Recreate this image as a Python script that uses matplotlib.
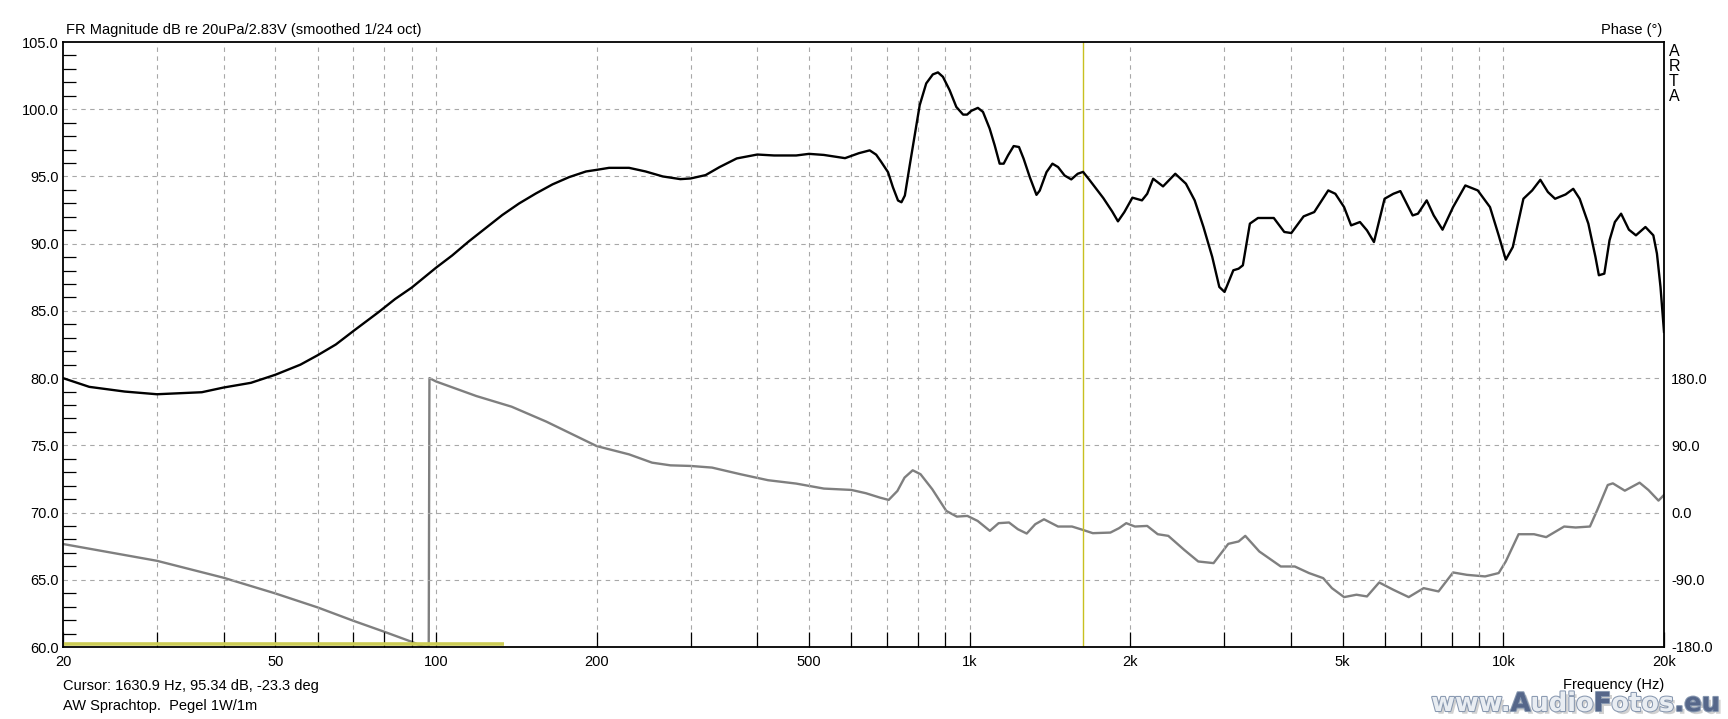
import numpy as np
import matplotlib
matplotlib.use("Agg")
import matplotlib.pyplot as plt
from matplotlib import patheffects as pe
from matplotlib.ticker import FixedLocator, NullFormatter

plt.rcParams['font.family'] = ['Liberation Sans', 'DejaVu Sans']

# ---------------- data ----------------
mag_freq = [20, 22.4, 26.1, 30, 36.4, 40, 45, 50, 55.7, 60, 64.9, 70, 78, 83.8, 90.1, 100, 107.2, 115.2,
            123.8, 133.1, 143.1, 153.8, 165.3, 177.6, 191, 200, 211, 230, 247, 266, 287, 300, 320, 340,
            366, 400, 430, 473, 500, 533, 584, 620, 649.6, 668, 683, 703, 718, 734, 745, 756, 772, 789,
            806, 829, 853, 872, 891, 917, 944, 972, 989, 1007, 1036, 1059, 1090, 1114, 1138, 1158,
            1180, 1209, 1237, 1262, 1296, 1334, 1353, 1393, 1429, 1464, 1506, 1550, 1594, 1631, 1676,
            1780, 1849, 1896,
            1949, 2018, 2103, 2151, 2207, 2303, 2428, 2542, 2640, 2742, 2848, 2936, 3003, 3119, 3191,
            3250, 3350, 3469, 3714, 3886, 4006, 4224, 4422, 4698, 4844, 5030, 5185, 5386, 5552, 5722,
            5990, 6221, 6412, 6761, 6918, 7184, 7405, 7692, 8050, 8487, 8954, 9440, 9800, 10105, 10416,
            10904, 11324, 11730, 12120, 12500, 13080, 13520, 13900, 14430, 14880, 15100, 15460, 15810,
            16180, 16620, 17190, 17720, 18460, 19100, 19400, 19700, 20000]
mag_db = [80.0, 79.35, 79.0, 78.8, 78.95, 79.3, 79.65, 80.25, 81.0, 81.7, 82.5, 83.5, 84.9, 85.88, 86.74,
          88.21, 89.12, 90.17, 91.15, 92.13, 92.99, 93.73, 94.41, 94.95, 95.37, 95.49, 95.64, 95.64,
          95.37, 95.0, 94.8, 94.85, 95.1, 95.7, 96.34, 96.63, 96.56, 96.56, 96.68, 96.6, 96.36, 96.73,
          96.94, 96.62, 96.07, 95.32, 94.2, 93.21, 93.08, 93.58, 95.82, 98.06, 100.3, 101.92, 102.59,
          102.74, 102.41, 101.42, 100.17, 99.6, 99.6, 99.88, 100.1, 99.8, 98.56, 97.31, 95.95, 95.95,
          96.57, 97.26, 97.19, 96.32, 94.95, 93.63, 93.95, 95.32, 95.95, 95.7, 95.07, 94.78, 95.2,
          95.34, 94.75, 93.39, 92.4, 91.66,
          92.35, 93.42, 93.22, 93.71, 94.83, 94.26, 95.2, 94.46, 93.22, 91.24, 89.01, 86.78, 86.41,
          88.02, 88.14,
          88.39, 91.49, 91.91, 91.91, 90.87, 90.79, 92.03, 92.35, 93.96, 93.71, 92.72, 91.36, 91.61,
          90.99, 90.12,
          93.34, 93.71, 93.91, 92.1, 92.23, 93.22, 92.1, 91.04, 92.72, 94.33, 93.96, 92.72, 90.62,
          88.81, 89.75,
          93.34, 93.96, 94.75, 93.84, 93.34, 93.66, 94.08, 93.34, 91.49, 89.01, 87.65, 87.77, 90.25,
          91.61, 92.23, 91.04, 90.62, 91.24, 90.62, 89.26, 86.78, 83.44]

phase_freq = [20, 30, 40, 50, 60, 70, 80, 90, 94.5, 96.9, 97.2, 100, 119, 138.6, 161, 200, 230, 254, 275,
              300, 329, 372, 419, 473, 533, 600, 639, 679, 705, 732, 755, 782, 809, 851, 904, 946, 990,
              1035, 1091, 1133, 1185, 1231, 1279, 1327, 1378, 1464, 1555, 1631, 1701, 1835, 1905, 1965,
              2040, 2151, 2251, 2356, 2523, 2681, 2864, 3052, 3191, 3284, 3489, 3828, 4066, 4323, 4596,
              4773, 5030, 5306, 5552, 5852, 6221, 6648, 7091, 7560, 8050, 8546, 9244, 9800, 10105,
              10680, 11414, 12030, 13000, 13660, 14530, 15000, 15690, 16040, 16890, 18000, 18700,
              19530, 20000]
phase_deg = [-42.1, -64.6, -87.3, -108.3, -127, -144.9, -159.6, -173, -179.5, -180, 180, 175.5, 156,
             141.7, 121.7, 89, 77.9, 66.8, 63.2, 62.4, 60.2, 51.3, 43.3, 38.8, 32.1, 30.3, 25.9, 20.0,
             16.9, 28.9, 46.8, 56.6, 51.3, 31.2, 2.2, -5.4, -4.5, -11.2, -24.5, -14.2, -13.3, -22.3,
             -28.1, -15.6, -9.0, -18.7, -18.7, -23.3, -27.6, -26.8, -20.9, -14.2, -18.7, -17.9, -29.0,
             -31.2, -49.9, -65.5, -67.7, -41.9, -38.7, -31.2, -52.1, -72.2, -72.2, -81.0, -87.8,
             -101.2, -113.2, -110.0, -112.3, -93.6, -103.4, -113.2, -101.2, -105.6, -80.2, -83.4,
             -85.5, -81.0, -65.5, -29.0, -29.0, -32.9, -18.7, -20.0, -18.7, 3.6, 36.9, 39.1, 29.3,
             40.0, 30.2, 16.0, 23.6]

cursor_freq = 1630.9
marker_freq = [20, 134]
marker_db = [60.25, 60.25]

x_grid = [30, 40, 50, 60, 70, 80, 90, 100, 200, 300, 400, 500, 600, 700, 800, 900,
          1000, 2000, 3000, 4000, 5000, 6000, 7000, 8000, 9000, 10000]
x_labels = {20: "20", 50: "50", 100: "100", 200: "200", 500: "500", 1000: "1k", 2000: "2k",
            5000: "5k", 10000: "10k", 20000: "20k"}
y_major = [60, 65, 70, 75, 80, 85, 90, 95, 100, 105]
phase_ticks = [-180, -90, 0, 90, 180]

# ---------------- figure ----------------
W, H = 1728, 719
fig = plt.figure(figsize=(W / 100, H / 100), dpi=100)
ax = fig.add_axes([63 / W, 72 / H, (1664 - 63) / W, (677 - 72) / H])
ax.set_xscale('log')
ax.set_xlim(20, 20000)
ax.set_ylim(60, 105)

grid_kw = dict(color='#a8a8a8', lw=0.8, linestyle=(0, (4, 4)), zorder=1)
for f in x_grid:
    ax.axvline(f, **grid_kw)
for y in y_major[1:-1]:
    ax.axhline(y, **grid_kw)

# x ticks
all_xt = sorted(set(x_grid) | set(x_labels.keys()))
ax.xaxis.set_major_locator(FixedLocator(all_xt))
ax.set_xticklabels([x_labels.get(f, "") for f in all_xt])
ax.xaxis.set_minor_locator(FixedLocator([]))
ax.xaxis.set_minor_formatter(NullFormatter())
ax.tick_params(axis='x', which='major', direction='in', length=11, width=0.9, color='black',
               labelsize=10.5, pad=6)

# y ticks
ax.yaxis.set_major_locator(FixedLocator(y_major))
ax.set_yticklabels([f"{v:.1f}" for v in y_major])
ax.yaxis.set_minor_locator(FixedLocator([v for v in range(60, 106) if v % 5 != 0]))
ax.tick_params(axis='y', which='major', length=0, labelsize=10.5, pad=3)
ax.tick_params(axis='y', which='minor', direction='in', length=9.5, width=0.9, color='black')

for s in ax.spines.values():
    s.set_linewidth(1.3)
    s.set_color('black')

# curves
ax.plot(marker_freq, marker_db, color='#cccc55', lw=2.6, zorder=2, solid_capstyle='butt')
ax.axvline(cursor_freq, color='#c8c020', lw=1.0, zorder=2)

ax2 = ax.twinx()
ax2.set_ylim(-180, 630)
ax2.set_yticks(phase_ticks)
ax2.set_yticklabels([f"{v:.1f}" for v in phase_ticks])
ax2.tick_params(axis='y', length=0, labelsize=10.5, pad=5)
for s in ax2.spines.values():
    s.set_visible(False)
ax2.plot(phase_freq, phase_deg, color='#7f7f7f', lw=1.7, zorder=3)
ax.set_zorder(ax2.get_zorder() + 1)
ax.patch.set_visible(False)
ax.plot(mag_freq, mag_db, color='black', lw=1.7, zorder=4)

# texts
fig.text(66 / W, 1 - 30 / H, "FR Magnitude dB re 20uPa/2.83V (smoothed 1/24 oct)",
         fontsize=10.5, va='center', ha='left')
fig.text(1662 / W, 1 - 30 / H, "Phase (°)", fontsize=10.5, va='center', ha='right')
fig.text(1669 / W, 1 - 44 / H, "A\nR\nT\nA", fontsize=11.5, va='top', ha='left', linespacing=1.0)
fig.text(63 / W, 1 - 686 / H, "Cursor: 1630.9 Hz, 95.34 dB, -23.3 deg", fontsize=10.5,
         va='center', ha='left')
fig.text(63 / W, 1 - 706 / H, "AW Sprachtop.  Pegel 1W/1m", fontsize=10.5, va='center', ha='left')
fig.text(1664 / W, 1 - 685 / H, "Frequency (Hz)", fontsize=10.5, va='center', ha='right')

# watermark
fig.canvas.draw()
renderer = fig.canvas.get_renderer()
pieces = [("www.", '#e9edf2'), ("A", '#56678a'), ("udio", '#e9edf2'), ("F", '#56678a'),
          ("otos", '#e9edf2'), (".eu", '#56678a')]
effects = [pe.SimplePatchShadow(offset=(2, -2), shadow_rgbFace='#999999', alpha=0.45),
           pe.Stroke(linewidth=1.5, foreground='#8898b0'), pe.Normal()]
texts = []
for s, c in pieces:
    t = fig.text(0, 1 - 704 / H, s, fontsize=18.5, fontweight='bold', family='DejaVu Sans',
                 color=c, va='center', ha='left', path_effects=effects)
    texts.append(t)
widths = [t.get_window_extent(renderer).width for t in texts]
xpos = 1720 - sum(widths)
for t, w in zip(texts, widths):
    t.set_x(xpos / W)
    xpos += w

fig.savefig("out.png", dpi=100)
